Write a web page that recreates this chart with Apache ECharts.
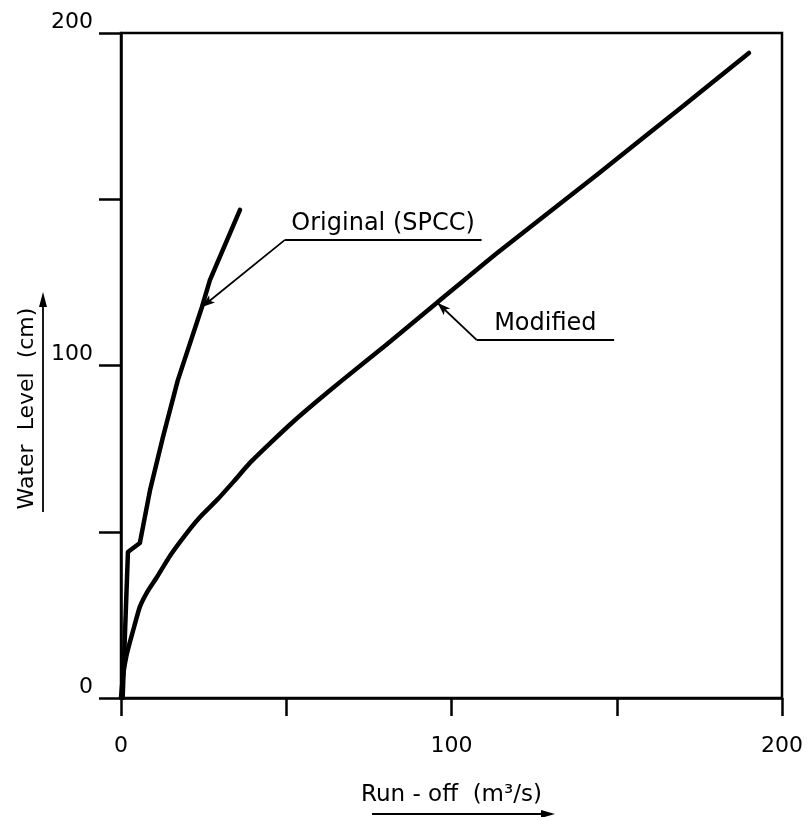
<!DOCTYPE html>
<html>
<head>
<meta charset="utf-8">
<script src="https://cdn.jsdelivr.net/npm/echarts@6/dist/echarts.min.js"></script>
<style>
  html, body { margin: 0; padding: 0; background: #fff; }
  #chart { width: 810px; height: 817px; }
</style>
</head>
<body>
<div id="chart"></div>
<script>
// rating curves (run-off m3/s vs water level cm)
const originalX = [0.5, 2.1, 5.7, 8.8, 12.7, 17.2, 24.5, 26.9, 36];
const originalY = [0, 43.9, 46.6, 62.6, 78.5, 95.6, 117.6, 125.7, 146.8];

const modifiedX = [0, 0.3, 0.8, 1.6, 2.6, 4, 5.7, 8, 10.9, 15, 19.9, 24, 29, 34, 39, 45, 52, 59, 67, 80, 95.5, 114, 144.7, 170, 190];
const modifiedY = [0, 3.5, 8, 12.5, 16.5, 21.5, 27.4, 32, 36.4, 43, 49.6, 54.5, 59.5, 65, 70.7, 76.5, 83, 89, 95.6, 106, 118.8, 134, 157.9, 178, 194];

const xTickLabels = [0, 100, 200];
const yTickLabels = [0, 100, 200];

// leader lines: label end, elbow, arrow tip (data coords)
const originalLeader = [[109.1, 137.7], [49.5, 137.7], [24.5, 117.6]];
const modifiedLeader = [[149.2, 107.7], [107.6, 107.7], [95.8, 118.8]];

const FONT = 'DejaVu Sans';

const zip = (xs, ys) => xs.map((x, i) => [x, ys[i]]);

// horizontal underline carries the label, the slanted part ends in an arrow
const leader = (pts, text) => ({
  silent: true,
  symbol: 'none',
  lineStyle: { color: '#000', width: 1.8, type: 'solid' },
  label: { show: false },
  emphasis: { disabled: true },
  data: [
    [
      {
        coord: pts[1], symbol: 'none',
        label: {
          show: true, position: 'insideMiddleTop', formatter: text,
          color: '#000', fontFamily: FONT, fontSize: 24, distance: 4
        }
      },
      { coord: pts[0], symbol: 'none' }
    ],
    [
      { coord: pts[1], symbol: 'none' },
      { coord: pts[2], symbol: 'arrow', symbolSize: [7, 13] }
    ]
  ]
});

const chart = echarts.init(document.getElementById('chart'));
chart.setOption({
  animation: false,
  backgroundColor: '#fff',
  textStyle: { fontFamily: FONT, color: '#000' },
  grid: {
    left: 121, right: 28, top: 33, bottom: 119,
    show: true, borderColor: '#000', borderWidth: 2.5, backgroundColor: 'transparent'
  },
  xAxis: {
    type: 'value',
    min: 0, max: 200, interval: 50,
    name: 'Run - off  (m³/s)',
    nameLocation: 'middle',
    nameGap: 86,
    nameTextStyle: { fontFamily: FONT, fontSize: 23, color: '#000' },
    axisLine: { show: true, lineStyle: { color: '#000', width: 2.5 } },
    axisTick: { show: true, inside: false, length: 18, lineStyle: { color: '#000', width: 2.5 } },
    axisLabel: {
      margin: 37,
      fontFamily: FONT, fontSize: 22, color: '#000',
      formatter: v => xTickLabels.includes(v) ? String(v) : ''
    },
    splitLine: { show: false }
  },
  yAxis: {
    type: 'value',
    min: 0, max: 200, interval: 50,
    name: 'Water  Level  (cm)',
    nameLocation: 'middle',
    nameRotate: 90,
    nameGap: 83,
    nameTextStyle: { fontFamily: FONT, fontSize: 22, color: '#000', padding: [0, 86, 0, 0] },
    axisLine: { show: true, lineStyle: { color: '#000', width: 2.5 } },
    axisTick: { show: true, inside: false, length: 22, lineStyle: { color: '#000', width: 2.5 } },
    axisLabel: {
      margin: 28,
      verticalAlign: 'bottom',
      fontFamily: FONT, fontSize: 22, color: '#000',
      formatter: v => yTickLabels.includes(v) ? String(v) : ''
    },
    splitLine: { show: false }
  },
  graphic: [
    // arrow beside the y-axis title
    { type: 'line', shape: { x1: 43, y1: 512, x2: 43, y2: 300 }, style: { stroke: '#000', lineWidth: 1.8 } },
    { type: 'polygon', shape: { points: [[43, 292], [39, 307], [47, 307]] }, style: { fill: '#000' } },
    // arrow under the x-axis title
    { type: 'line', shape: { x1: 372, y1: 814, x2: 546, y2: 814 }, style: { stroke: '#000', lineWidth: 2 } },
    { type: 'polygon', shape: { points: [[555, 814], [541, 810], [541, 818]] }, style: { fill: '#000' } }
  ],
  series: [
    {
      name: 'Original (SPCC)',
      type: 'line',
      data: zip(originalX, originalY),
      showSymbol: false,
      smooth: false,
      lineStyle: { color: '#000', width: 4.5, join: 'round', cap: 'round' },
      markLine: leader(originalLeader, 'Original (SPCC)')
    },
    {
      name: 'Modified',
      type: 'line',
      data: zip(modifiedX, modifiedY),
      showSymbol: false,
      smooth: 0.2,
      lineStyle: { color: '#000', width: 4.5, join: 'round', cap: 'round' },
      markLine: leader(modifiedLeader, 'Modified')
    }
  ]
});
</script>
</body>
</html>
